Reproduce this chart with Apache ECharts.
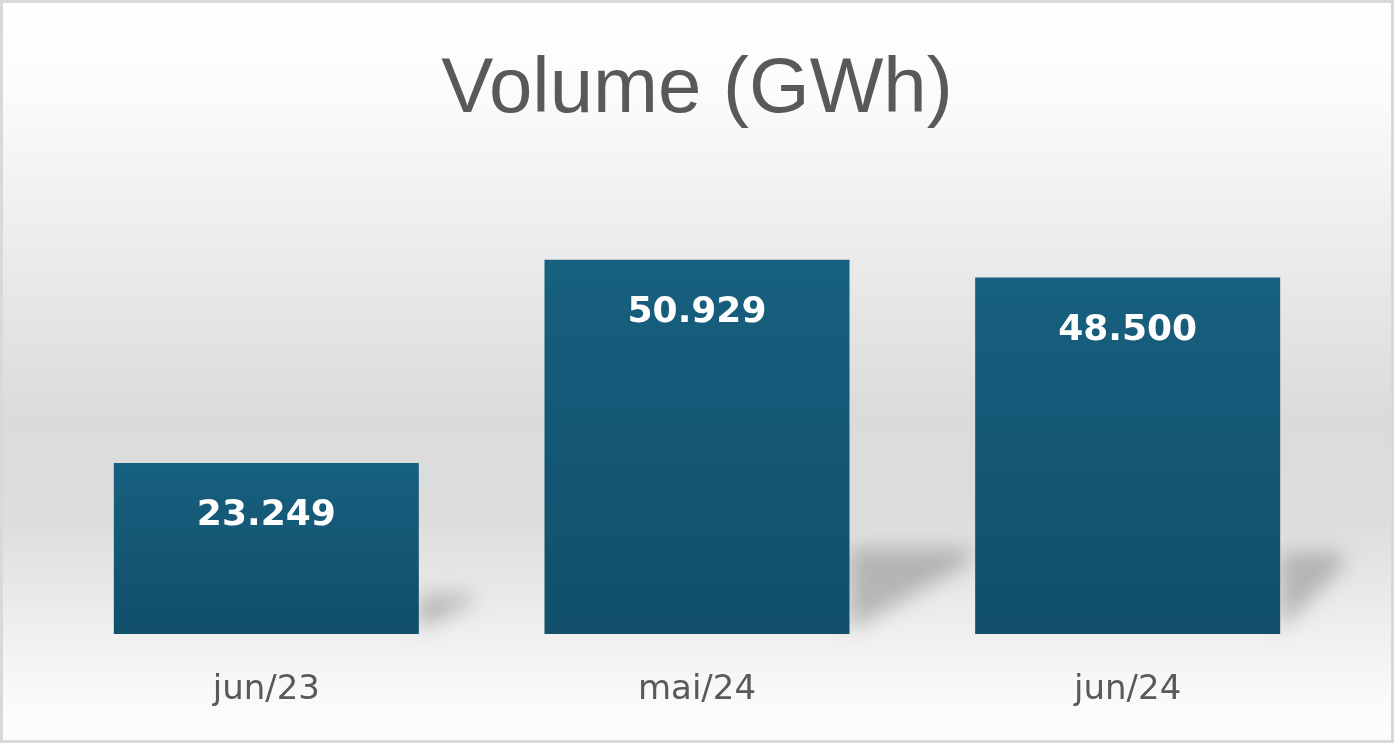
<!DOCTYPE html>
<html>
<head>
<meta charset="utf-8">
<script src="https://cdn.jsdelivr.net/npm/echarts@6/dist/echarts.min.js"></script>
<style>
  html, body { margin: 0; padding: 0; background: #fff; }
  #wrap { position: relative; width: 1394px; height: 743px; }
  #chart { width: 1394px; height: 743px; }
  #frame { position: absolute; left: 0; top: 0; width: 1394px; height: 743px; box-sizing: border-box; border: 3px solid #d9d9d9; pointer-events: none; }
</style>
</head>
<body>
<div id="wrap"><div id="chart"></div><div id="frame"></div></div>
<script>
const titleText = 'Volume (GWh)';
const categories = ['jun/23', 'mai/24', 'jun/24'];
const values = [23.249, 50.929, 48.5];

const fmt = v => v.toFixed(3);

const chart = echarts.init(document.getElementById('chart'), null, { renderer: 'canvas' });

const BAR_W = 305;

chart.setOption({
  animation: false,
  backgroundColor: {
    type: 'linear', x: 0, y: 0, x2: 0, y2: 1,
    colorStops: [
      { offset: 0.00, color: '#ffffff' },
      { offset: 0.13, color: '#fbfbfb' },
      { offset: 0.34, color: '#ebebeb' },
      { offset: 0.56, color: '#dbdbdb' },
      { offset: 0.70, color: '#dddddd' },
      { offset: 0.84, color: '#eeeeee' },
      { offset: 0.94, color: '#fafafa' },
      { offset: 1.00, color: '#fdfdfd' }
    ]
  },
  title: {
    text: titleText,
    left: 'center',
    top: 42,
    textStyle: {
      fontFamily: 'Liberation Sans, Arial, sans-serif',
      fontSize: 78,
      fontWeight: 'normal',
      color: '#595959',
      lineHeight: 86
    }
  },
  grid: { left: 51, right: 51, bottom: 109, top: 193, containLabel: false },
  xAxis: {
    type: 'category',
    data: categories,
    axisLine: { show: false },
    axisTick: { show: false },
    axisLabel: {
      margin: 39,
      fontFamily: 'DejaVu Sans, sans-serif',
      fontSize: 34,
      color: '#595959'
    }
  },
  yAxis: {
    type: 'value',
    min: 0,
    max: 60,
    show: false,
    splitLine: { show: false }
  },
  series: [
    {
      type: 'custom',
      z: 1,
      silent: true,
      data: values.map((v, i) => [i, v]),
      renderItem: function (params, api) {
        const base = api.coord([api.value(0), 0]);
        const top = api.coord([api.value(0), api.value(1)]);
        const h = base[1] - top[1];
        const xr = base[0] + BAR_W / 2;
        const cs = params.coordSys;
        const xMax = cs.x + cs.width;
        const w = Math.min(0.32 * h, xMax - xr);
        const off = 3000;
        const pts = [
          [xr - off, base[1] - 4],
          [xr - off, base[1] - 0.23 * h],
          [xr + w - off, base[1] - 0.23 * h],
          [xr + w - off, base[1] - 0.19 * h]
        ];
        return {
          type: 'polygon',
          shape: { points: pts },
          style: {
            fill: 'rgba(140,140,140,0.75)',
            shadowColor: 'rgba(140,140,140,0.75)',
            shadowBlur: 20,
            shadowOffsetX: off,
            shadowOffsetY: 0
          }
        };
      }
    },
    {
      type: 'bar',
      z: 2,
      data: values,
      barWidth: BAR_W,
      itemStyle: {
        color: {
          type: 'linear', x: 0, y: 0, x2: 0, y2: 1,
          colorStops: [
            { offset: 0, color: '#17607f' },
            { offset: 1, color: '#114f6a' }
          ]
        }
      },
      label: {
        show: true,
        position: 'insideTop',
        distance: 35,
        formatter: p => fmt(p.value),
        fontFamily: 'DejaVu Sans, sans-serif',
        fontWeight: 'bold',
        fontSize: 36,
        color: '#ffffff'
      }
    }
  ]
});
</script>
</body>
</html>
